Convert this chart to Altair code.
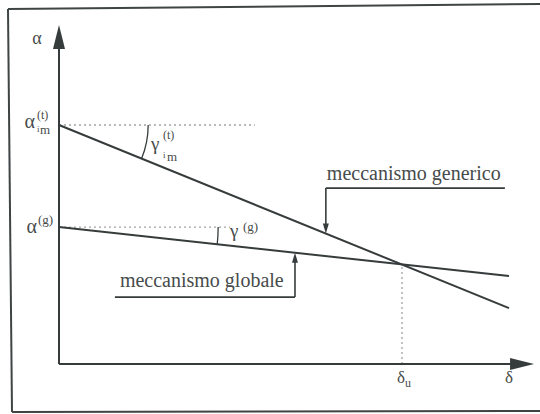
import math
import altair as alt
import numpy as np
import pandas as pd

# ---- values of the diagram (delta on x, alpha on y) ----
delta_u = 1.0          # displacement where the two mechanisms meet
alpha_u = 0.418        # multiplier at the meeting point
delta_end = 1.312      # end of the drawn mechanism lines

generic_delta = [0.0, delta_end]
generic_alpha = [1.0, 0.234]     # meccanismo generico, starts at alpha_im^(t)
global_delta = [0.0, delta_end]
global_alpha = [0.573, 0.368]    # meccanismo globale, starts at alpha^(g)

axis_tip_delta = 1.385
axis_tip_alpha = 1.418

ref_t_end = 0.571      # dotted reference at alpha_im^(t)
ref_g_end = 0.499      # dotted reference at alpha^(g)
gamma_t_at = 0.26      # where the gamma_im^(t) arc is drawn
gamma_g_at = 0.464     # where the gamma^(g) arc is drawn

generic_note = {"delta": 0.778, "alpha": 0.736, "end": 1.300}
global_note = {"delta": 0.688, "alpha": 0.280, "start": 0.163}

# ---- layout ----
W, H = 540, 414
X0, Y0 = 59, 364       # pixel position of the origin
UX, UY = 343, 239      # pixels per unit of delta / alpha

XS = alt.Scale(domain=[-X0 / UX, (W - X0) / UX], nice=False, zero=False)
YS = alt.Scale(domain=[-(H - Y0) / UY, Y0 / UY], nice=False, zero=False)

INK = "#363c3c"
TXT = "#474b4b"
DOT = "#a3a3a3"
SERIF = "Liberation Serif"

alpha_t = generic_alpha[0]
alpha_g = global_alpha[0]


def xy(chart):
    return chart.encode(
        x=alt.X("d:Q", scale=XS, axis=None),
        y=alt.Y("a:Q", scale=YS, axis=None),
    )


def segs(rows, **mark):
    df = pd.DataFrame(rows, columns=["d", "a", "d2", "a2"])
    return alt.Chart(df).mark_rule(**mark).encode(
        x=alt.X("d:Q", scale=XS, axis=None),
        y=alt.Y("a:Q", scale=YS, axis=None),
        x2="d2:Q",
        y2="a2:Q",
    )


def point(d, a):
    return pd.DataFrame({"d": [d], "a": [a]})


def label(text, d, a, dx, dy, size, align="left"):
    return xy(
        alt.Chart(point(d, a)).mark_text(
            text=text, dx=dx, dy=dy, fontSize=size, font=SERIF,
            color=TXT, align=align, baseline="alphabetic",
        )
    )


def head(d, a, path, size):
    return xy(
        alt.Chart(point(d, a)).mark_point(
            shape=path, size=size, filled=True, opacity=1,
            color=INK, strokeWidth=0,
        )
    )


# mechanism lines
lines_df = pd.DataFrame({
    "d": generic_delta + global_delta,
    "a": generic_alpha + global_alpha,
    "m": ["generico"] * 2 + ["globale"] * 2,
})
lines = xy(alt.Chart(lines_df).mark_line(color=INK, strokeWidth=2)).encode(
    detail="m:N"
)

# axes with arrow heads
axes = segs(
    [[0, 0, 0, axis_tip_alpha - 20 / UY], [0, 0, axis_tip_delta - 20 / UX, 0]],
    color=INK, strokeWidth=2,
)
y_head = head(0, axis_tip_alpha, "M0,0L0.5,2L-0.5,2Z", 576)
x_head = head(axis_tip_delta, 0, "M0,0L-2,-0.5L-2,0.5Z", 576)

# dotted references
dotted = segs(
    [[0, alpha_t, ref_t_end, alpha_t],
     [0, alpha_g, ref_g_end, alpha_g],
     [delta_u, 0, delta_u, alpha_u]],
    color=DOT, strokeWidth=1.3, strokeDash=[2, 3],
)


# angle arcs between reference and mechanism line
def angle_arc(alpha0, alphas, at):
    ang = math.atan((alphas[0] - alphas[1]) * UY / (delta_end * UX))
    r = at * UX
    return xy(
        alt.Chart(point(0, alpha0)).mark_arc(
            stroke=INK, strokeWidth=1.3, fillOpacity=0
        )
    ).encode(
        theta=alt.value(math.pi / 2),
        theta2=alt.value(math.pi / 2 + ang),
        radius=alt.value(r),
        radius2=alt.value(r),
    )


arc_t = angle_arc(alpha_t, generic_alpha, gamma_t_at)
arc_g = angle_arc(alpha_g, global_alpha, gamma_g_at)

# annotation leaders
gen_hit = float(np.interp(generic_note["delta"], generic_delta, generic_alpha))
glo_hit = float(np.interp(global_note["delta"], global_delta, global_alpha))
leaders = segs(
    [[generic_note["delta"], generic_note["alpha"], generic_note["end"], generic_note["alpha"]],
     [generic_note["delta"], generic_note["alpha"], generic_note["delta"], gen_hit + 8 / UY],
     [global_note["start"], global_note["alpha"], global_note["delta"], global_note["alpha"]],
     [global_note["delta"], global_note["alpha"], global_note["delta"], glo_hit - 8 / UY]],
    color=INK, strokeWidth=1.6,
)
gen_head = head(generic_note["delta"], gen_hit, "M0,0L0.3,-1L-0.3,-1Z", 400)
glo_head = head(global_note["delta"], glo_hit, "M0,0L0.3,1L-0.3,1Z", 400)

texts = [
    label("α", 0, axis_tip_alpha, -22, 19, 18, "center"),
    # alpha_im^(t)
    label("α", 0, alpha_t, -24, 3, 20, "right"),
    label("(t)", 0, alpha_t, -22, -6, 12),
    label("i", 0, alpha_t, -22, 7, 9),
    label("m", 0, alpha_t, -19, 9, 13),
    # alpha^(g)
    label("α", 0, alpha_g, -22, 6, 20, "right"),
    label("(g)", 0, alpha_g, -21, -3, 13),
    # gamma_im^(t)
    label("γ", 0, alpha_t, 92, 25, 19),
    label("(t)", 0, alpha_t, 104, 14, 12),
    label("i", 0, alpha_t, 104, 33, 9),
    label("m", 0, alpha_t, 108, 36, 13),
    # gamma^(g)
    label("γ", 0, alpha_g, 171, 10, 19),
    label("(g)", 0, alpha_g, 184, 4, 13),
    # delta labels
    label("δ", delta_u, 0, -1, 19, 17, "center"),
    label("u", delta_u, 0, 3, 23, 12),
    label("δ", delta_end, 0, 0, 19, 17, "center"),
    # mechanism names
    label("meccanismo generico", generic_note["delta"], generic_note["alpha"], 1, -8, 20),
    label("meccanismo globale", global_note["start"], global_note["alpha"], 5, -10, 20),
]

# page frame
frame_df = pd.DataFrame({"k": [0]})
frame = alt.layer(
    alt.Chart(frame_df).mark_rule(color="#3f4444", strokeWidth=2).encode(
        x=alt.value(8), x2=alt.value(W), y=alt.value(9), y2=alt.value(4)),
    alt.Chart(frame_df).mark_rule(color="#3f4444", strokeWidth=2).encode(
        x=alt.value(8), x2=alt.value(12), y=alt.value(9), y2=alt.value(412)),
    alt.Chart(frame_df).mark_rule(color="#3f4444", strokeWidth=2).encode(
        x=alt.value(12), x2=alt.value(W), y=alt.value(412), y2=alt.value(411)),
)

chart = alt.layer(
    frame, dotted, arc_t, arc_g, lines, axes, y_head, x_head,
    leaders, gen_head, glo_head, *texts,
).properties(
    width=W, height=H, padding=0,
    autosize=alt.AutoSizeParams(type="none"),
    background="white",
).configure_view(strokeWidth=0)

chart.save("out.html", embed_options={"renderer": "svg", "actions": False})
